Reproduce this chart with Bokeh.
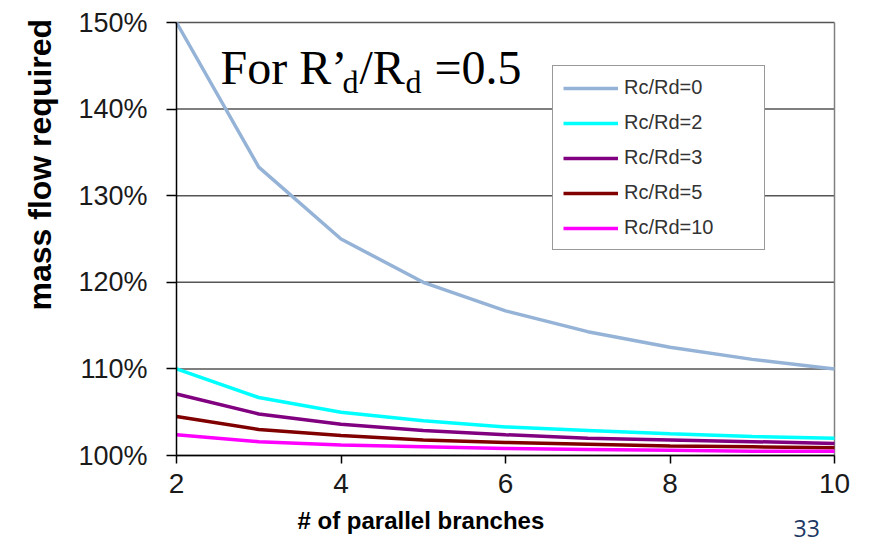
import math
from bokeh.plotting import figure
from bokeh.models import Legend, LegendItem, Label, FixedTicker, PrintfTickFormatter, Range1d
from bokeh.embed import file_html
from bokeh.resources import INLINE

branches = [2, 3, 4, 5, 6, 7, 8, 9, 10]
rc_rd_0 = [150.0, 133.3, 125.0, 120.0, 116.7, 114.3, 112.5, 111.1, 110.0]
rc_rd_2 = [110.0, 106.7, 105.0, 104.0, 103.3, 102.9, 102.5, 102.2, 102.0]
rc_rd_3 = [107.1, 104.8, 103.6, 102.9, 102.4, 102.0, 101.8, 101.6, 101.4]
rc_rd_5 = [104.5, 103.0, 102.3, 101.8, 101.5, 101.3, 101.1, 101.0, 100.9]
rc_rd_10 = [102.4, 101.6, 101.2, 101.0, 100.8, 100.7, 100.6, 100.5, 100.5]
series = [rc_rd_0, rc_rd_2, rc_rd_3, rc_rd_5, rc_rd_10]
series_names = ["Rc/Rd=0", "Rc/Rd=2", "Rc/Rd=3", "Rc/Rd=5", "Rc/Rd=10"]
colors = ["#95B3D7", "#00FFFF", "#800080", "#800000", "#FF00FF"]
x_ticks = [2, 4, 6, 8, 10]
y_ticks = [100, 110, 120, 130, 140, 150]

W, H = 874, 544
FL, FR, FT, FB = 176, 834, 22, 455          # plot-area edges in pixels
xs = (FR - FL) / (x_ticks[-1] - x_ticks[0])
ys = (FB - FT) / (y_ticks[-1] - y_ticks[0])
x_range = Range1d(x_ticks[0] - FL / xs, x_ticks[-1] + (W - FR) / xs)
y_range = Range1d(y_ticks[0] - (H - FB) / ys, y_ticks[-1] + FT / ys)


def px(xp):
    return x_ticks[0] + (xp - FL) / xs


def py(yp):
    return y_ticks[0] + (FB - yp) / ys


p = figure(width=W, height=H, output_backend="svg", toolbar_location=None,
           x_range=x_range, y_range=y_range, min_border=0)
p.background_fill_color = "white"
p.border_fill_color = "white"
p.outline_line_color = None
p.xgrid.visible = False
p.ygrid.visible = False

# horizontal gridlines and right border of the plot area, from the tick values
n = len(y_ticks)
p.segment(x0=[x_ticks[0]] * n, y0=y_ticks, x1=[x_ticks[-1]] * n, y1=y_ticks,
          line_color="#555555", line_width=1.5)
p.segment(x0=[x_ticks[-1]], y0=[y_ticks[0]], x1=[x_ticks[-1]], y1=[y_ticks[-1]],
          line_color="#808080", line_width=1.5)

p.yaxis.ticker = FixedTicker(ticks=y_ticks)
p.yaxis.formatter = PrintfTickFormatter(format="%d%%")
p.yaxis.fixed_location = x_ticks[0]
p.yaxis.bounds = (y_ticks[0], y_ticks[-1])
p.xaxis.ticker = FixedTicker(ticks=x_ticks)
p.xaxis.fixed_location = y_ticks[0]
p.xaxis.bounds = (x_ticks[0], x_ticks[-1])

for ax in (p.xaxis[0], p.yaxis[0]):
    ax.axis_line_color = "black"
    ax.axis_line_width = 1.5
    ax.major_tick_line_color = "black"
    ax.major_tick_line_width = 1.5
    ax.major_tick_in = 0
    ax.minor_tick_line_color = None
    ax.major_label_text_color = "#1a1a1a"
    ax.major_label_text_font = "Liberation Sans"

p.yaxis.major_tick_out = 10
p.yaxis.major_label_standoff = 19
p.yaxis.major_label_text_font_size = "27px"

p.xaxis.major_tick_out = 8
p.xaxis.major_label_standoff = 10
p.xaxis.major_label_text_font_size = "28px"

items = []
for name, yv, c in zip(series_names, series, colors):
    r = p.line(branches, yv, line_color=c, line_width=3.5)
    items.append(LegendItem(label=name, renderers=[r]))

legend = Legend(items=items, location=(552, H - 250), orientation="vertical",
                glyph_width=55, glyph_height=20, label_height=20, label_width=130,
                spacing=12, padding=10, margin=0, label_standoff=6,
                label_text_font="Liberation Sans", label_text_font_size="20px",
                label_text_color="#333333",
                border_line_color="#333333", border_line_width=1.2,
                background_fill_color="white", background_fill_alpha=1.0)
p.add_layout(legend)


def text_label(text, xp, yp, size, font, angle=0.0, **kw):
    # place text so that its alphabetic baseline falls on the given pixel position
    shift = 0.32 * size
    if angle:
        xp = xp - shift
    else:
        yp = yp - shift
    p.add_layout(Label(x=px(xp), y=py(yp), text=text, angle=angle,
                       text_font=font, text_font_size=f"{size}px",
                       text_align="left", text_baseline="alphabetic", **kw))


# axis titles
text_label("mass flow required", 50, 310, 32, "Liberation Sans", angle=math.pi / 2,
           text_font_style="bold", text_color="black")
text_label("# of parallel branches", 297, 528, 24, "Liberation Sans",
           text_font_style="bold", text_color="black")

# annotation  For R'd/Rd = 0.5
title_parts = [
    ("For R\u2019", 220, 82, 48),
    ("d", 342, 92, 32),
    ("/R", 359, 82, 48),
    ("d", 405, 92, 32),
    ("=0.5", 434, 82, 48),
]
for txt, xp, yp, fs in title_parts:
    text_label(txt, xp, yp, fs, "Liberation Serif", text_color="black")

text_label("33", 793, 535, 23, "Open Sans", text_color="#203864")

open("out.html", "w").write(file_html(p, INLINE))
